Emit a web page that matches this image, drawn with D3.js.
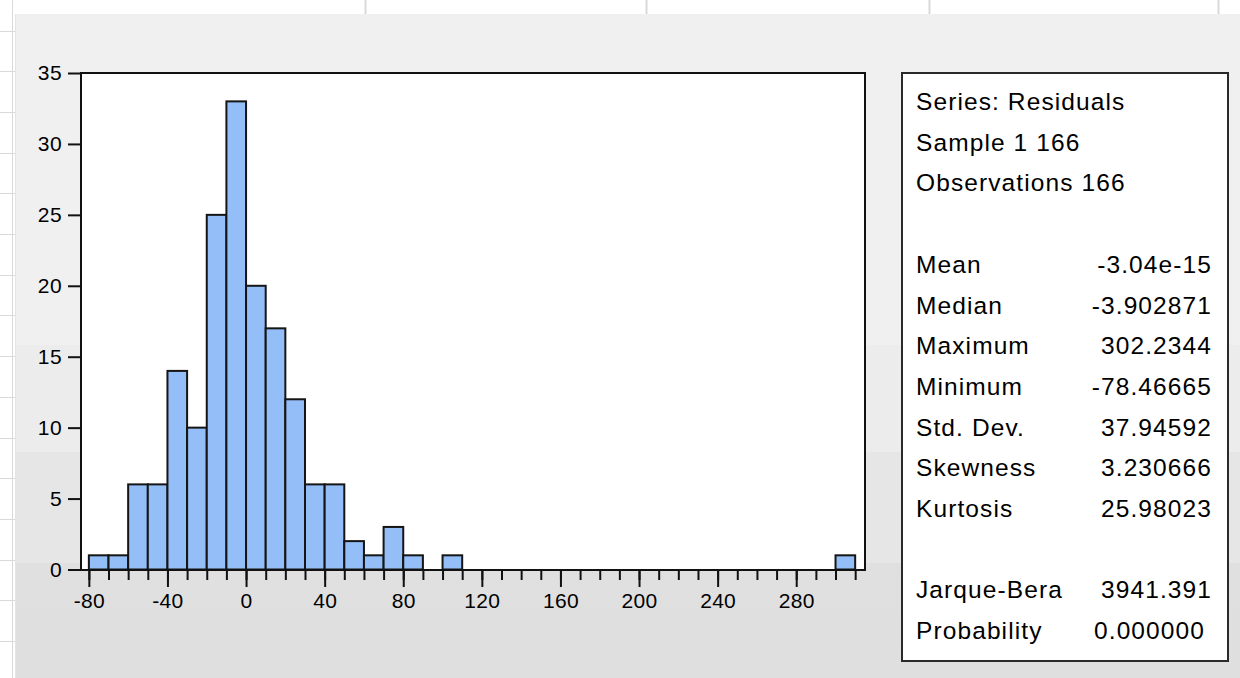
<!DOCTYPE html>
<html><head><meta charset="utf-8">
<script src="https://cdn.jsdelivr.net/npm/d3@7"></script>
<style>html,body{margin:0;padding:0;background:#fff;} svg{display:block;}</style>
</head><body><svg id="c" width="1240" height="678"></svg>
<script>
// ---- data ----
const binStarts = [-80,-70,-60,-50,-40,-30,-20,-10,0,10,20,30,40,50,60,70,80,90,100,110,120,130,140,150,160,170,180,190,200,210,220,230,240,250,260,270,280,290,300];
const counts    = [1,1,6,6,14,10,25,33,20,17,12,6,6,2,1,3,1,0,1,0,0,0,0,0,0,0,0,0,0,0,0,0,0,0,0,0,0,0,1];
const binWidth = 10;
const xMajorTicks = [-80,-40,0,40,80,120,160,200,240,280];
const yTicks = [0,5,10,15,20,25,30,35];
const statLabels = ["Series: Residuals","Sample 1 166","Observations 166","","Mean","Median","Maximum","Minimum","Std. Dev.","Skewness","Kurtosis","","Jarque-Bera","Probability"];
const statValues = ["","","","","-3.04e-15","-3.902871","302.2344","-78.46665","37.94592","3.230666","25.98023","","3941.391","0.000000"];

// ---- layout ----
const W = 1240, H = 678;
const plot = {x0: 81, x1: 865, y0: 73, y1: 570};
const FONT = "'Liberation Sans', Arial, sans-serif";
const svg = d3.select("#c");

// background / sheet
svg.append("rect").attr("width", W).attr("height", H).attr("fill", "#fff");
const defs = svg.append("defs");
const g = defs.append("linearGradient").attr("id","bg").attr("gradientUnits","userSpaceOnUse")
  .attr("x1",0).attr("x2",0).attr("y1",14).attr("y2",H);
const stops = [[0,"#f0f0f0"],[0.4985,"#f0f0f0"],[0.4985,"#ececec"],[0.6596,"#ececec"],[0.6596,"#e6e6e6"],[0.8268,"#e6e6e6"],[0.8268,"#e0e0e0"],[1,"#dfdfdf"]];
stops.forEach(s => g.append("stop").attr("offset", s[0]).attr("stop-color", s[1]));
svg.append("rect").attr("x",16).attr("y",14).attr("width",W-16).attr("height",H-14).attr("fill","url(#bg)");

// spreadsheet grid remnants
const grid = svg.append("g").attr("stroke","#d9d9d9").attr("stroke-width",1);
grid.append("line").attr("x1",12.5).attr("x2",12.5).attr("y1",0).attr("y2",H);
grid.append("line").attr("x1",15.5).attr("x2",15.5).attr("y1",14).attr("y2",H).attr("stroke","#e4e4e4");
d3.range(0,17).forEach(i => {
  const yy = Math.round(30.5 + i*40.7) + 0.5;
  grid.append("line").attr("x1",0).attr("x2",15).attr("y1",yy).attr("y2",yy);
});
[365,646,929,1218].forEach(xx => {
  grid.append("line").attr("x1",xx+0.5).attr("x2",xx+0.5).attr("y1",0).attr("y2",14).attr("stroke-width",2);
});

// ---- scales ----
const x = d3.scaleLinear().domain([-84, 315]).range([plot.x0, plot.x1]);
const y = d3.scaleLinear().domain([0, 35]).range([569.5, plot.y0]);

// plot area
svg.append("rect").attr("x",plot.x0).attr("y",plot.y0).attr("width",plot.x1-plot.x0).attr("height",plot.y1-plot.y0).attr("fill","#fff");

// bars
const bins = binStarts.map((b,i) => ({x0:b, x1:b+binWidth, n:counts[i]})).filter(d => d.n > 0);
svg.append("g").selectAll("rect").data(bins).join("rect")
  .attr("x", d => x(d.x0))
  .attr("width", d => x(d.x1) - x(d.x0))
  .attr("y", d => y(d.n))
  .attr("height", d => y(0) - y(d.n))
  .attr("fill", "#94bef8")
  .attr("stroke", "#151515")
  .attr("stroke-width", 2);

// frame
svg.append("rect").attr("x",plot.x0).attr("y",plot.y0).attr("width",plot.x1-plot.x0).attr("height",plot.y1-plot.y0)
  .attr("fill","none").attr("stroke","#111").attr("stroke-width",2);

// y axis
const yAx = svg.append("g").attr("transform", `translate(${plot.x0},0)`)
  .call(d3.axisLeft(y).tickValues(yTicks).tickSize(13).tickPadding(6).tickFormat(d => String(d)));
yAx.select(".domain").remove();
yAx.selectAll("line").attr("stroke","#111").attr("stroke-width",2);
yAx.selectAll("text").attr("font-family",FONT).attr("font-size",21).attr("fill","#000").attr("letter-spacing","0.4px");

// x axis minor
const edges = binStarts.concat([binStarts[binStarts.length-1] + binWidth]);
const xMin = svg.append("g").attr("transform", `translate(0,${plot.y1})`)
  .call(d3.axisBottom(x).tickValues(edges).tickSize(10).tickFormat(""));
xMin.select(".domain").remove();
xMin.selectAll("line").attr("stroke","#111").attr("stroke-width",2);

// x axis major
const xMaj = svg.append("g").attr("transform", `translate(0,${plot.y1})`)
  .call(d3.axisBottom(x).tickValues(xMajorTicks).tickSize(17).tickPadding(6).tickFormat(d => String(d)));
xMaj.select(".domain").remove();
xMaj.selectAll("line").attr("stroke","#111").attr("stroke-width",2);
xMaj.selectAll("text").attr("font-family",FONT).attr("font-size",21).attr("fill","#000").attr("letter-spacing","0.3px");

// ---- stats box ----
svg.append("rect").attr("x",902).attr("y",73).attr("width",326).attr("height",588)
  .attr("fill","#fff").attr("stroke","#2a2a2a").attr("stroke-width",2);
const st = svg.append("g").attr("font-family",FONT).attr("font-size",24.5).attr("fill","#000").attr("letter-spacing","1.1px");
statLabels.forEach((lab,i) => {
  const yy = 110 + i*40.7;
  if (lab) st.append("text").attr("x",916).attr("y",yy).text(lab);
  if (statValues[i]) st.append("text").attr("x", lab === "Probability" ? 1205 : 1212).attr("y",yy)
    .attr("text-anchor","end").text(statValues[i]);
});
</script></body></html>
